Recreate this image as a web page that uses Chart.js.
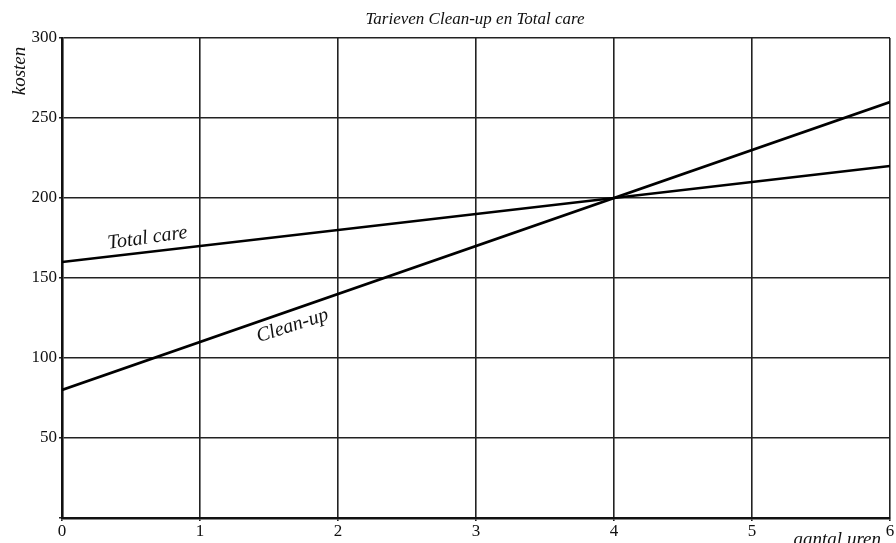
<!DOCTYPE html>
<html>
<head>
<meta charset="utf-8">
<script src="https://cdn.jsdelivr.net/npm/chart.js@4.4.0/dist/chart.umd.min.js"></script>
<style>
  html, body { margin: 0; padding: 0; background: #fff; }
  #wrap { width: 896px; height: 543px; }
</style>
</head>
<body>
<div id="wrap"><canvas id="c"></canvas></div>
<script>
// aantal uren (x) and kosten (y)
const uren = [0, 6];
const totalCare = [160, 220];
const cleanUp = [80, 260];
const xTicks = [0, 1, 2, 3, 4, 5, 6];
const yTicks = [50, 100, 150, 200, 250, 300];

const serif = '"Liberation Serif", "DejaVu Serif", serif';

function toPoints(xs, ys) {
  return xs.map((x, i) => ({ x: x, y: ys[i] }));
}

// draws title, axis titles and the line labels
const textPlugin = {
  id: 'texts',
  afterDraw(chart) {
    const ctx = chart.ctx;
    const xs = chart.scales.x, ys = chart.scales.y;
    ctx.save();
    ctx.fillStyle = '#111';
    ctx.font = 'italic 17px ' + serif;
    ctx.textAlign = 'center';
    ctx.textBaseline = 'alphabetic';
    ctx.fillText('Tarieven Clean-up en Total care', 475, 24);

    // kosten
    ctx.save();
    ctx.translate(25, 71);
    ctx.rotate(-Math.PI / 2);
    ctx.font = 'italic 19px ' + serif;
    ctx.fillText('kosten', 0, 0);
    ctx.restore();

    // aantal uren
    ctx.font = 'italic 19px ' + serif;
    ctx.textAlign = 'right';
    ctx.fillText('aantal uren', 881, 545);

    // line labels
    function lineLabel(text, xv, ys0, offset, angle) {
      const yv = ys0[0] + (ys0[1] - ys0[0]) * (xv - uren[0]) / (uren[1] - uren[0]);
      const px = xs.getPixelForValue(xv), py = ys.getPixelForValue(yv) + offset;
      ctx.save();
      ctx.translate(px, py);
      ctx.rotate(-angle * Math.PI / 180);
      ctx.textAlign = 'center';
      ctx.textBaseline = 'middle';
      ctx.font = 'italic 20px ' + serif;
      ctx.fillText(text, 0, 0);
      ctx.restore();
    }
    lineLabel('Total care', 0.62, totalCare, -14, 8);
    lineLabel('Clean-up', 1.67, cleanUp, 16, 18);
    ctx.restore();
  }
};

new Chart(document.getElementById('c'), {
  type: 'line',
  data: {
    datasets: [
      { label: 'Total care', data: toPoints(uren, totalCare), borderColor: '#000', borderWidth: 2.6, pointRadius: 0, fill: false },
      { label: 'Clean-up', data: toPoints(uren, cleanUp), borderColor: '#000', borderWidth: 2.6, pointRadius: 0, fill: false }
    ]
  },
  options: {
    responsive: true,
    maintainAspectRatio: false,
    animation: false,
    layout: { padding: { top: 38, right: 6, left: 0, bottom: 0 } },
    plugins: { legend: { display: false }, tooltip: { enabled: false }, title: { display: false } },
    scales: {
      x: {
        type: 'linear', min: 0, max: 6,
        afterFit(s) { s.height = 25; },
        afterBuildTicks(s) { s.ticks = xTicks.map(v => ({ value: v })); },
        grid: { color: '#222', lineWidth: 1.6, tickLength: 3 },
        border: { color: '#111', width: 2.6 },
        ticks: { color: '#111', font: { family: serif, size: 17 }, padding: 0, maxRotation: 0 }
      },
      y: {
        min: 0, max: 300,
        afterFit(s) { s.width = 62; },
        afterBuildTicks(s) { s.ticks = [0].concat(yTicks).map(v => ({ value: v })); },
        grid: { color: '#222', lineWidth: 1.6, tickLength: 3 },
        border: { color: '#111', width: 2.6 },
        ticks: {
          color: '#111', font: { family: serif, size: 17 }, padding: 2,
          callback: v => v === 0 ? '' : v
        }
      }
    }
  },
  plugins: [textPlugin]
});
</script>
</body>
</html>
